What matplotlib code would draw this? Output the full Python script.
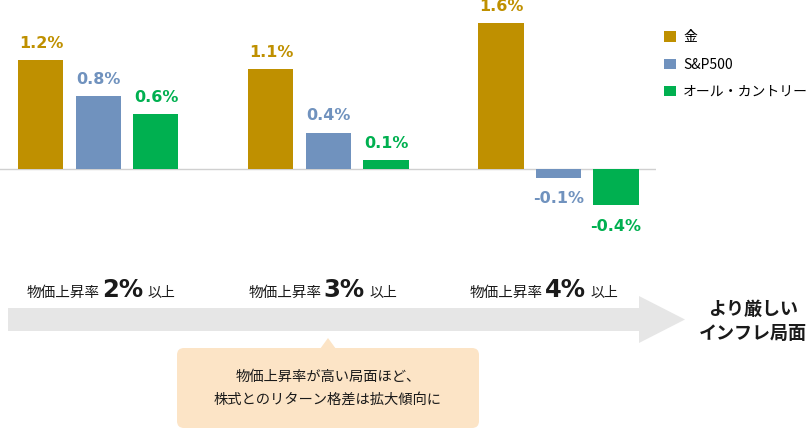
import matplotlib.pyplot as plt
import numpy as np
from matplotlib.patches import Polygon, FancyBboxPatch

plt.rcParams['font.family'] = ['Noto Sans CJK JP', 'DejaVu Sans']

# data
series = ["金", "S&P500", "オール・カントリー"]
stages = ["2%", "3%", "4%"]
gold = [1.2, 1.1, 1.6]
sp500 = [0.8, 0.4, -0.1]
acwi = [0.6, 0.1, -0.4]
colors = ["#BF9000", "#7092BE", "#00B050"]

W, H = 812, 430
fig = plt.figure(figsize=(W / 100, H / 100), dpi=100)

# background overlay in pixel coords (y down)
bg = fig.add_axes([0, 0, 1, 1])
bg.set_xlim(0, W)
bg.set_ylim(H, 0)
bg.axis("off")

# bar chart axes
ax = fig.add_axes([0, (H - 250) / H, 656 / W, 250 / H])
ax.set_facecolor("none")
x = np.arange(len(stages))
width = 0.196
step = 0.25
for i, (vals, c, name) in enumerate(zip([gold, sp500, acwi], colors, series)):
    bars = ax.bar(x + (i - 1) * step, vals, width, color=c, label=name, zorder=2)
    for b, v in zip(bars, vals):
        off = 12 if v >= 0 else -15
        ax.annotate(f"{v:.1f}%", (b.get_x() + b.get_width() / 2, v),
                    xytext=(0, off), textcoords="offset points",
                    ha="center", va="center", color=c, fontsize=11.5,
                    fontweight="bold", family="DejaVu Sans")
ax.axhline(0, color="#d0d0d0", linewidth=1, zorder=1)
ax.set_xlim(-0.428, 2.424)
ax.set_ylim(-0.89, 1.857)
ax.axis("off")

handles, labels = ax.get_legend_handles_labels()
fig.legend(handles, labels, loc="upper left", bbox_to_anchor=(652 / W, 1 - 18 / H),
           frameon=False, fontsize=10, handlelength=0.8, handleheight=0.8,
           handletextpad=0.55, labelspacing=0.95)

# arrow
arrow = Polygon([(8, 308), (639, 308), (639, 296), (685, 319.5), (639, 343),
                 (639, 331), (8, 331)], closed=True, facecolor="#E6E6E6",
                edgecolor="none")
bg.add_patch(arrow)

# stage labels
for k, s in enumerate(stages):
    x0 = 27 + k * 221.5
    t1 = bg.text(x0, 297, "物価上昇率", fontsize=10.5, color="#1a1a1a",
                 va="baseline", ha="left")
    t2 = bg.annotate(s, xy=(1, 297), xycoords=(t1, "data"), xytext=(1.5, 0),
                     textcoords="offset points", fontsize=17.5, fontweight="bold",
                     color="#1a1a1a", va="baseline", ha="left", family="DejaVu Sans")
    bg.annotate("以上", xy=(1, 297), xycoords=(t2, "data"), xytext=(3, 0),
                textcoords="offset points", fontsize=10, color="#1a1a1a",
                va="baseline", ha="left")

bg.text(753, 309, "より厳しい", fontsize=13, fontweight="bold", ha="center",
        va="center", color="#1a1a1a")
bg.text(753, 333, "インフレ局面", fontsize=13, fontweight="bold", ha="center",
        va="center", color="#1a1a1a")

# callout
box_color = "#FCE4C6"
bg.add_patch(FancyBboxPatch((177, 348), 302, 80, boxstyle="round,pad=0,rounding_size=7",
                            facecolor=box_color, edgecolor="none"))
bg.add_patch(Polygon([(320, 349), (328, 338), (336, 349)], closed=True,
                     facecolor=box_color, edgecolor="none"))
bg.text(328, 377, "物価上昇率が高い局面ほど、", fontsize=10.3, ha="center",
        va="center", color="#1a1a1a")
bg.text(328, 400, "株式とのリターン格差は拡大傾向に", fontsize=10.3, ha="center",
        va="center", color="#1a1a1a")

fig.savefig("out.png", dpi=100)
